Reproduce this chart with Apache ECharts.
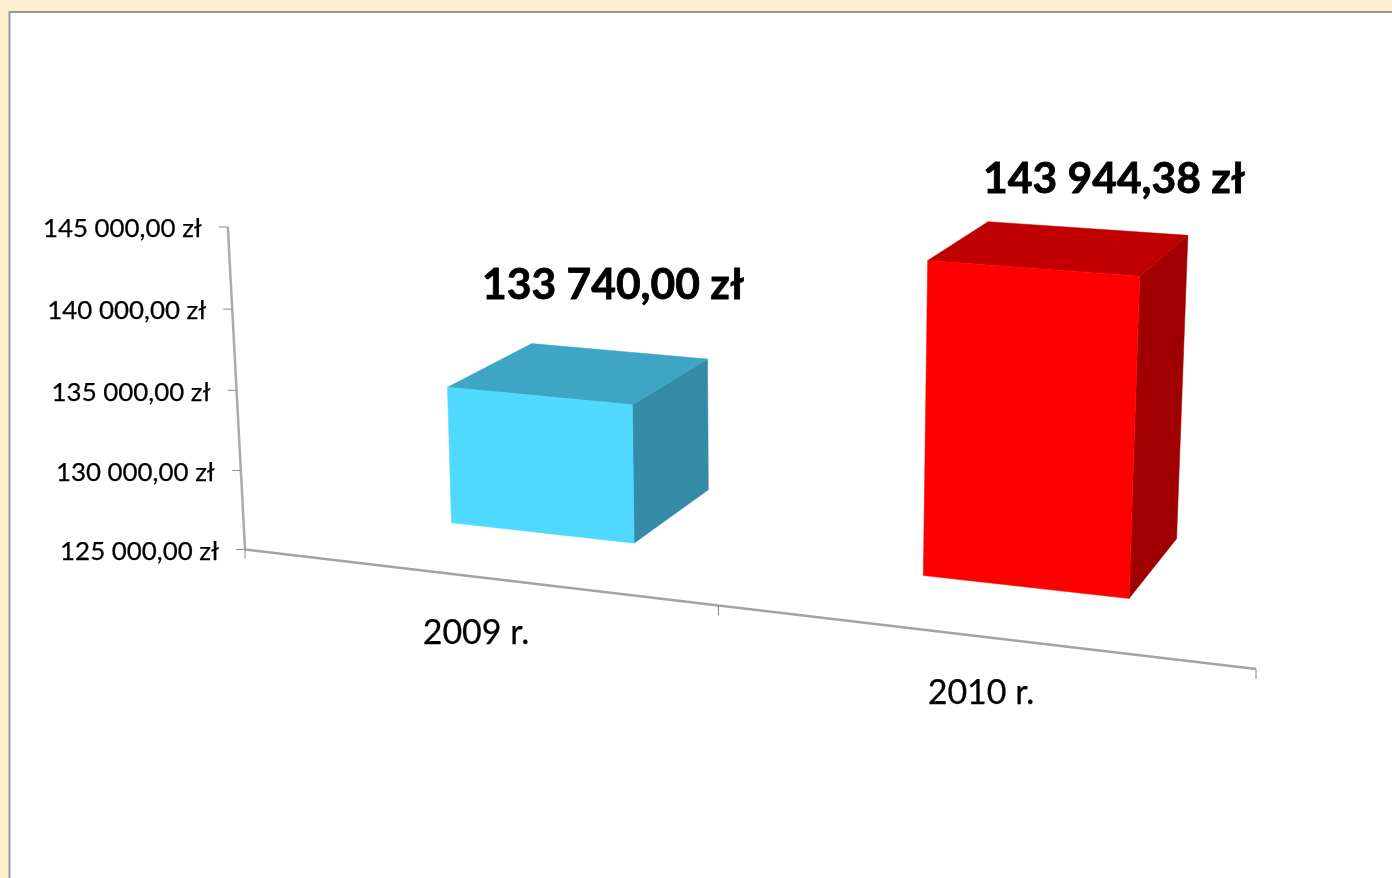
<!DOCTYPE html>
<html><head><meta charset="utf-8">
<style>html,body{margin:0;padding:0;background:#FFEFCE;overflow:hidden}#c{width:1392px;height:878px}</style>
<script src="https://cdn.jsdelivr.net/npm/echarts@6/dist/echarts.min.js"></script>
</head><body><div id="c"></div>
<script>
// ---- data ----
const categories = ['2009 r.', '2010 r.'];
const barValues = [133740.00, 143944.38];
const barLabels = ['133 740,00 zł', '143 944,38 zł'];
const valueTicks = [125000, 130000, 135000, 140000, 145000];
const valueTickLabels = ['125 000,00 zł', '130 000,00 zł', '135 000,00 zł', '140 000,00 zł', '145 000,00 zł'];

// ---- layout / style (not data) ----
const FONT = 'Lato, Carlito, "Open Sans", sans-serif';
// perspective cameras: scene (u along categories, d depth, v value share) -> screen
const CAM_AXES = [430.475913,106.220998,-22.86092,245.061291,
                  19.791544,-20.357927,-328.207398,549.567451,
                  -0.059718,0.048457,-0.024765];
const CAM_BARS = [439.582574,121.737488,-22.854568,238.105172,
                  20.897209,-23.04422,-336.620687,565.920865,
                  -0.059962,0.064467,-0.029585];
const BAR_U = [-0.241303, 0.159809]; // bar extent around the category centre
const BAR_D = [1, 2];                // bar extent in depth
const barFaces = [
  {front:'#50D9FF', top:'#3EA6C4', side:'#348BA6'},
  {front:'#FF0000', top:'#C00000', side:'#A00000'}
];
const barLabelAt = [[613, 285], [1114, 179]];
const catLabelAt = [[476, 633], [981, 693]];

function project(c, u, d, v) {
  const w = c[8]*u + c[9]*d + c[10]*v + 1;
  return [(c[0]*u + c[1]*d + c[2]*v + c[3]) / w, (c[4]*u + c[5]*d + c[6]*v + c[7]) / w];
}
// grid position -> scene coordinates, using the chart's own axes
function scene(params, px) {
  const g = params.coordSys;
  return { u: (px[0] - g.x) / g.width * categories.length, v: (g.y + g.height - px[1]) / g.height };
}
const line = (a, b, stroke, lineWidth) => ({type:'line', silent:true,
  shape:{x1:a[0], y1:a[1], x2:b[0], y2:b[1]}, style:{stroke, lineWidth}});
const text = (x, y, t, size, weight, align, heavy) => ({type:'text', silent:true,
  style:{x, y, text:t, fontFamily:FONT, fontSize:size, fontWeight:weight, fill:'#000', align, verticalAlign:'middle',
         stroke: heavy ? '#000' : null, lineWidth: heavy || 0}});
const poly = (pts, fill) => ({type:'polygon', silent:true, shape:{points:pts}, style:{fill, stroke:fill, lineWidth:0.5}});

const chart = echarts.init(document.getElementById('c'), null, {renderer:'canvas'});
chart.setOption({
  animation:false,
  backgroundColor:'#FFEFCE',
  graphic:[{type:'rect', silent:true, z:-1, shape:{x:9.5, y:12, width:1500, height:1000},
            style:{fill:'#FFFFFF', stroke:'#979797', lineWidth:2}}],
  grid:{left:100, top:100, width:1000, height:500},
  tooltip:{show:false},
  xAxis:{type:'category', data:categories, show:false},
  yAxis:{type:'value', min:125000, max:145000, interval:5000, show:false},
  series:[
    { // value axis
      type:'custom', coordinateSystem:'cartesian2d', z:2, silent:true,
      data:valueTicks.map((v,i)=>[0, v, i]),
      encode:{x:0, y:1},
      renderItem(params, api){
        const s = scene(params, api.coord([api.value(0), api.value(1)]));
        const p = project(CAM_AXES, 0, 0, s.v);
        const i = params.dataIndex, children = [];
        if (i < valueTicks.length - 1) {
          const next = scene(params, api.coord([0, valueTicks[i+1]]));
          children.push(line(p, project(CAM_AXES, 0, 0, next.v), '#ABABAB', 2.5));
        }
        children.push(line([p[0]-9, p[1]], p, '#8A8A8A', 1));
        children.push(text(p[0]-26, p[1]+2, valueTickLabels[i], 25.9, 'normal', 'right', 0.25));
        return {type:'group', children};
      }
    },
    { // category axis
      type:'custom', coordinateSystem:'cartesian2d', z:2, silent:true,
      data:categories.map((c,i)=>[i, 125000]),
      encode:{x:0, y:1},
      renderItem(params, api){
        const i = params.dataIndex;
        const a = project(CAM_AXES, i, 0, 0), b = project(CAM_AXES, i+1, 0, 0);
        const children = [line(a, b, '#A4A4A4', 2.5),
          line(a, [a[0], a[1]+9], '#8A8A8A', 1),
          line(b, [b[0], b[1]+10], '#8A8A8A', 1),
          text(catLabelAt[i][0], catLabelAt[i][1], categories[i], 34, 'normal', 'center', 0.25)];
        return {type:'group', children};
      }
    },
    { // 3-D bars
      type:'custom', coordinateSystem:'cartesian2d', z:3, silent:true,
      data:barValues.map((v,i)=>[i, v]),
      encode:{x:0, y:1},
      renderItem(params, api){
        const i = params.dataIndex, col = barFaces[i];
        const s = scene(params, api.coord([api.value(0), api.value(1)]));
        const u0 = s.u + BAR_U[0], u1 = s.u + BAR_U[1], d0 = BAR_D[0], d1 = BAR_D[1], t = s.v;
        const P = (u, d, v) => project(CAM_BARS, u, d, v);
        const front = [P(u0,d0,t), P(u1,d0,t), P(u1,d0,0), P(u0,d0,0)];
        const top = [P(u0,d0,t), P(u0,d1,t), P(u1,d1,t), P(u1,d0,t)];
        const side = [P(u1,d0,t), P(u1,d1,t), P(u1,d1,0), P(u1,d0,0)];
        return {type:'group', children:[
          poly(side, col.side), poly(top, col.top), poly(front, col.front),
          text(barLabelAt[i][0], barLabelAt[i][1], barLabels[i], 42.6, 'bold', 'center', 0.8)
        ]};
      }
    }
  ]
});
</script></body></html>
